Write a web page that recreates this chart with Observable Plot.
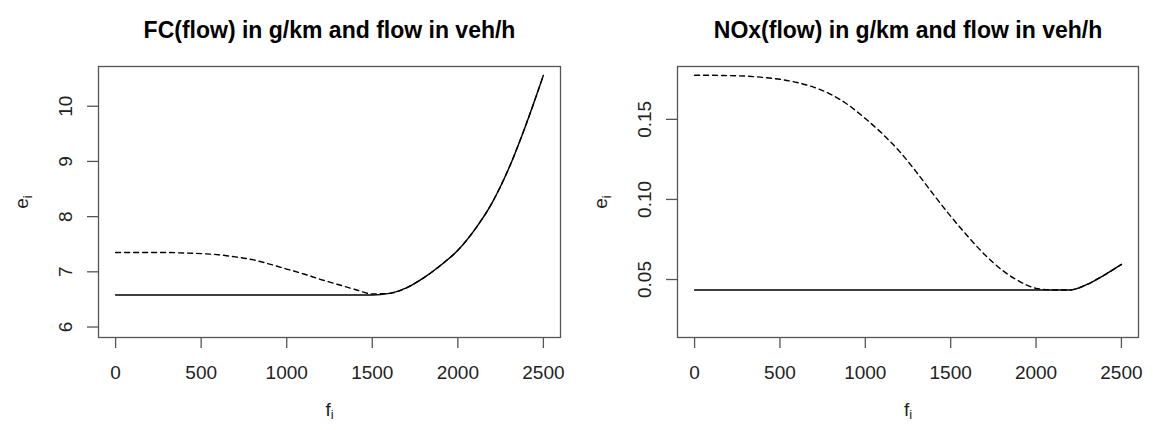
<!DOCTYPE html>
<html>
<head>
<meta charset="utf-8">
<script src="https://cdn.jsdelivr.net/npm/d3@7"></script>
<script src="https://cdn.jsdelivr.net/npm/@observablehq/plot@0.6"></script>
<style>
  html, body { margin: 0; padding: 0; background: #fff; }
  #wrap { display: flex; width: 1153px; height: 430px; }
  svg { font-family: "Liberation Sans", Arial, sans-serif; }
</style>
</head>
<body>
<div id="wrap"></div>
<script>
// ---- data ----
const flow = [0,100,200,300,400,500,600,700,800,900,1000,1100,1200,1300,1400,1500,1600,1700,1800,1900,2000,2100,2200,2300,2400,2500];

const fcSolid  = [6.58,6.58,6.58,6.58,6.58,6.58,6.58,6.58,6.58,6.58,6.58,6.58,6.58,6.58,6.58,6.58,6.61,6.71,6.89,7.12,7.39,7.77,8.25,8.89,9.68,10.56];
const fcDashed = [7.35,7.35,7.35,7.35,7.34,7.33,7.31,7.27,7.22,7.14,7.05,6.96,6.86,6.77,6.68,6.60,6.61,6.71,6.89,7.12,7.39,7.77,8.25,8.89,9.68,10.56];

const noxSolid  = [0.0435,0.0435,0.0435,0.0435,0.0435,0.0435,0.0435,0.0435,0.0435,0.0435,0.0435,0.0435,0.0435,0.0435,0.0435,0.0435,0.0435,0.0435,0.0435,0.0435,0.0435,0.0435,0.0435,0.0470,0.0528,0.0594];
const noxDashed = [0.1775,0.1775,0.1773,0.1770,0.1762,0.1750,0.1730,0.1700,0.1655,0.1590,0.1505,0.1410,0.1300,0.1170,0.1030,0.0895,0.0770,0.0655,0.0560,0.0490,0.0445,0.0435,0.0435,0.0470,0.0528,0.0594];

const xTicks = [0,500,1000,1500,2000,2500];
const xTickLabels = ["0","500","1000","1500","2000","2500"];
const fcTicks = [6,7,8,9,10];
const fcTickLabels = ["6","7","8","9","10"];
const noxTicks = [0.05,0.10,0.15];
const noxTickLabels = ["0.05","0.10","0.15"];

const titles = ["FC(flow) in g/km and flow in veh/h", "NOx(flow) in g/km and flow in veh/h"];

function rows(ys) { return flow.map((f, i) => ({f, e: ys[i]})); }

function panel({width, marginLeft, marginRight, yDomain, yTicks, yLabels, solid, dashed, title}) {
  const svg = Plot.plot({
    width, height: 430,
    marginTop: 66, marginBottom: 93, marginLeft, marginRight,
    style: {fontFamily: "Liberation Sans, Arial, sans-serif", fontSize: "19px", color: "#222", background: "#fff"},
    x: {domain: [-100, 2600]},
    y: {domain: yDomain},
    marks: [
      Plot.frame({stroke: "#555", strokeWidth: 1.3}),
      Plot.axisX({ticks: xTicks, tickFormat: (d, i) => xTickLabels[i], tickSize: 11, tickPadding: 17,
                  stroke: "#555", strokeWidth: 1.3,
                  label: "f_i", labelAnchor: "center", labelArrow: "none", labelOffset: 78, fontSize: 19}),
      Plot.axisY({ticks: yTicks, tickFormat: (d, i) => yLabels[i], tickSize: 11, tickPadding: 16, tickRotate: -90,
                  stroke: "#555", strokeWidth: 1.3,
                  label: "e_i", labelAnchor: "center", labelArrow: "none", labelOffset: 84, fontSize: 19}),
      Plot.line(rows(solid), {x: "f", y: "e", stroke: "#000", strokeWidth: 1.4, curve: "monotone-x"}),
      Plot.line(rows(dashed), {x: "f", y: "e", stroke: "#000", strokeWidth: 1.4, strokeDasharray: "5,4", curve: "monotone-x"}),
      Plot.text([title], {frameAnchor: "top", dy: -45, fontWeight: "bold", fontSize: 23, fill: "#000"})
    ]
  });
  // subscripts for axis labels
  d3.select(svg).selectAll("text").each(function() {
    const t = d3.select(this);
    if (this.childNodes.length === 1 && /^[ef]_i$/.test(this.textContent)) {
      const base = this.textContent[0];
      t.text(null);
      t.append("tspan").text(base);
      t.append("tspan").attr("font-size", "13px").attr("dy", "0.3em").text("i");
    }
  });
  return svg;
}

const wrap = document.getElementById("wrap");
wrap.appendChild(panel({width: 576, marginLeft: 98, marginRight: 16,
  yDomain: [5.81, 10.72], yTicks: fcTicks, yLabels: fcTickLabels,
  solid: fcSolid, dashed: fcDashed, title: titles[0]}));
wrap.appendChild(panel({width: 577, marginLeft: 101, marginRight: 15,
  yDomain: [0.0138, 0.183], yTicks: noxTicks, yLabels: noxTickLabels,
  solid: noxSolid, dashed: noxDashed, title: titles[1]}));
</script>
</body>
</html>
